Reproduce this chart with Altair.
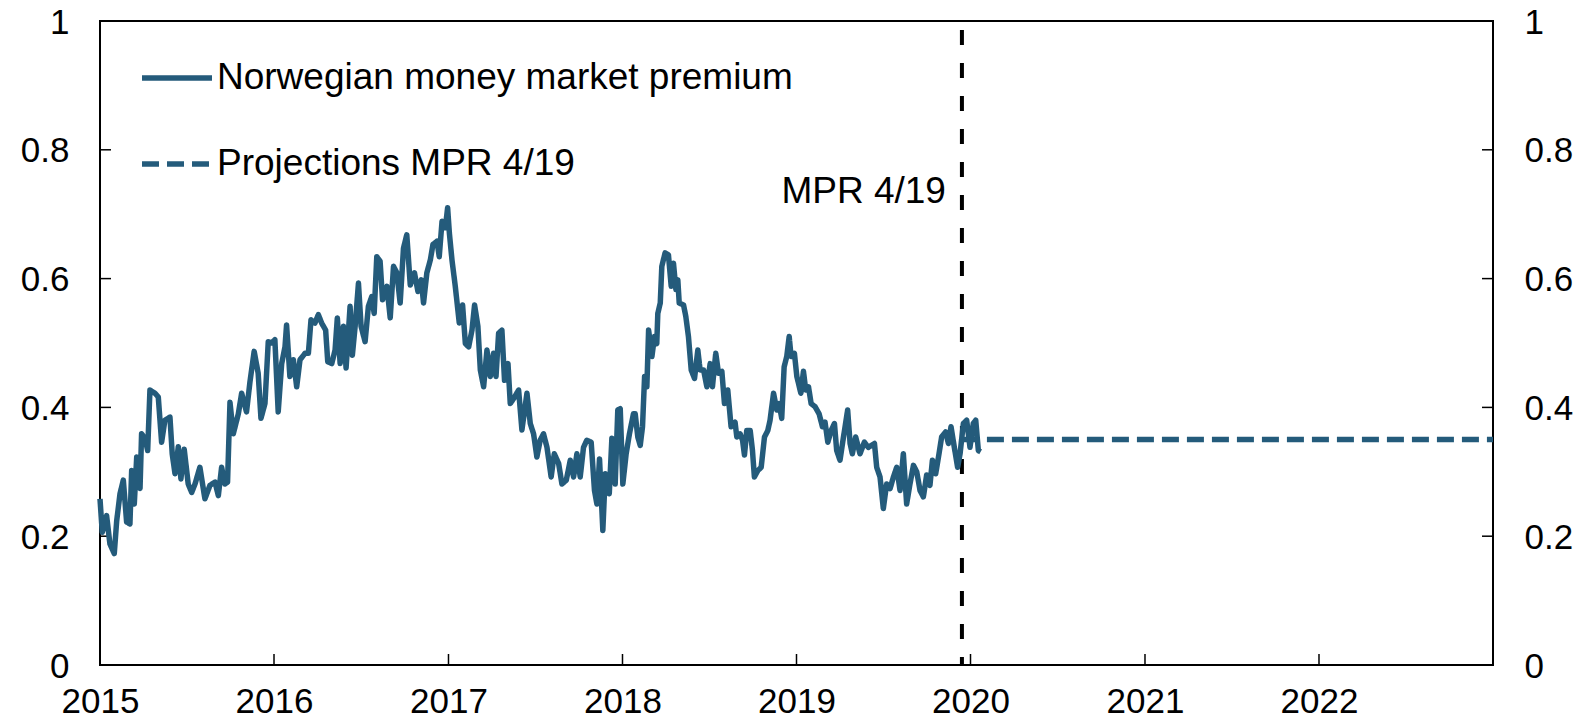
import altair as alt
import pandas as pd

# ---- data ----
hist_years = [
    2015.000, 2015.013, 2015.038, 2015.057, 2015.082, 2015.096, 2015.115, 2015.134, 2015.153, 2015.172,
    2015.182, 2015.197, 2015.211, 2015.230, 2015.239, 2015.258, 2015.274, 2015.287, 2015.316, 2015.335,
    2015.354, 2015.373, 2015.402, 2015.415, 2015.431, 2015.450, 2015.465, 2015.484, 2015.507, 2015.527,
    2015.546, 2015.574, 2015.603, 2015.632, 2015.661, 2015.680, 2015.699, 2015.718, 2015.733, 2015.747,
    2015.766, 2015.795, 2015.814, 2015.842, 2015.862, 2015.886, 2015.909, 2015.925, 2015.948, 2015.967,
    2015.986,
    2016.005, 2016.024, 2016.044, 2016.063, 2016.072, 2016.091, 2016.111, 2016.130, 2016.149, 2016.178,
    2016.197, 2016.212, 2016.235, 2016.254, 2016.273, 2016.296, 2016.308, 2016.331, 2016.350, 2016.363,
    2016.379, 2016.398, 2016.413, 2016.436, 2016.449, 2016.465, 2016.484, 2016.499, 2016.522, 2016.541,
    2016.560, 2016.574, 2016.589, 2016.608, 2016.622, 2016.647, 2016.666, 2016.685, 2016.704, 2016.723,
    2016.742, 2016.761, 2016.781, 2016.805, 2016.825, 2016.844, 2016.857, 2016.876, 2016.896, 2016.911,
    2016.934, 2016.947, 2016.963, 2016.982, 2016.995, 2017.005, 2017.020, 2017.039,
    2017.062, 2017.081, 2017.097, 2017.116, 2017.135, 2017.150, 2017.169, 2017.183, 2017.202, 2017.221,
    2017.240, 2017.259, 2017.273, 2017.288, 2017.307, 2017.322, 2017.342, 2017.355, 2017.380, 2017.403,
    2017.422, 2017.451, 2017.470, 2017.489, 2017.508, 2017.527, 2017.546, 2017.566, 2017.590, 2017.608,
    2017.633, 2017.652, 2017.677, 2017.700, 2017.719, 2017.738, 2017.757, 2017.776, 2017.795, 2017.820,
    2017.839, 2017.853, 2017.868, 2017.887, 2017.901, 2017.924, 2017.939, 2017.958, 2017.973, 2017.987,
    2018.002, 2018.021, 2018.040, 2018.063,
    2018.073, 2018.088, 2018.102, 2018.115, 2018.127, 2018.140, 2018.150, 2018.169, 2018.184, 2018.197,
    2018.203, 2018.217, 2018.226, 2018.245, 2018.264, 2018.280, 2018.293, 2018.307, 2018.318, 2018.326,
    2018.351, 2018.364, 2018.379, 2018.395, 2018.414, 2018.433, 2018.446, 2018.466, 2018.485, 2018.504,
    2018.517, 2018.536, 2018.552, 2018.571, 2018.586, 2018.605, 2018.624, 2018.647, 2018.657, 2018.676,
    2018.690, 2018.701, 2018.714, 2018.734, 2018.747, 2018.758, 2018.778, 2018.797, 2018.816, 2018.835,
    2018.848, 2018.868, 2018.887, 2018.900, 2018.915, 2018.929, 2018.944, 2018.958, 2018.969, 2018.988,
    2019.002, 2019.025, 2019.040, 2019.053, 2019.069, 2019.084,
    2019.107, 2019.130, 2019.149, 2019.164, 2019.180, 2019.199, 2019.218, 2019.231, 2019.250, 2019.270,
    2019.294, 2019.308, 2019.321, 2019.340, 2019.365, 2019.390, 2019.413, 2019.448, 2019.461, 2019.480,
    2019.499, 2019.518, 2019.538, 2019.557, 2019.576, 2019.595, 2019.614, 2019.633, 2019.652, 2019.672,
    2019.691, 2019.710, 2019.729, 2019.748, 2019.767, 2019.781, 2019.800, 2019.819, 2019.834, 2019.857,
    2019.873, 2019.888, 2019.907, 2019.926, 2019.940, 2019.959, 2019.978, 2019.997, 2020.016, 2020.030,
    2020.045, 2020.058,
]
hist_values = [
    0.258, 0.206, 0.232, 0.188, 0.173, 0.224, 0.266, 0.287, 0.222, 0.219,
    0.302, 0.250, 0.323, 0.274, 0.359, 0.352, 0.333, 0.427, 0.422, 0.416,
    0.346, 0.380, 0.385, 0.328, 0.297, 0.339, 0.289, 0.335, 0.281, 0.268,
    0.281, 0.307, 0.258, 0.279, 0.284, 0.263, 0.307, 0.281, 0.284, 0.408,
    0.359, 0.390, 0.422, 0.393, 0.440, 0.487, 0.453, 0.383, 0.406, 0.502,
    0.500,
    0.505, 0.393, 0.468, 0.494, 0.528, 0.448, 0.474, 0.432, 0.474, 0.484,
    0.484, 0.536, 0.531, 0.544, 0.531, 0.520, 0.471, 0.468, 0.489, 0.539,
    0.468, 0.526, 0.461, 0.557, 0.481, 0.526, 0.593, 0.526, 0.502, 0.557,
    0.572, 0.546, 0.634, 0.627, 0.567, 0.588, 0.539, 0.619, 0.609, 0.562,
    0.647, 0.668, 0.590, 0.609, 0.580, 0.598, 0.562, 0.609, 0.629, 0.653,
    0.658, 0.634, 0.689, 0.679, 0.710, 0.671, 0.629, 0.588,
    0.531, 0.559, 0.499, 0.494, 0.520, 0.559, 0.526, 0.458, 0.432, 0.489,
    0.448, 0.484, 0.448, 0.515, 0.520, 0.442, 0.468, 0.406, 0.416, 0.427,
    0.365, 0.422, 0.375, 0.359, 0.323, 0.349, 0.359, 0.338, 0.292, 0.328,
    0.313, 0.281, 0.287, 0.318, 0.292, 0.328, 0.292, 0.338, 0.349, 0.346,
    0.271, 0.250, 0.320, 0.209, 0.297, 0.266, 0.352, 0.281, 0.396, 0.398,
    0.281, 0.328, 0.359, 0.390,
    0.390, 0.354, 0.341, 0.370, 0.448, 0.432, 0.520, 0.479, 0.510, 0.499,
    0.546, 0.562, 0.619, 0.640, 0.637, 0.588, 0.624, 0.583, 0.598, 0.562,
    0.559, 0.541, 0.510, 0.458, 0.445, 0.489, 0.458, 0.458, 0.432, 0.468,
    0.432, 0.484, 0.453, 0.456, 0.406, 0.427, 0.370, 0.377, 0.354, 0.359,
    0.349, 0.326, 0.364, 0.364, 0.333, 0.292, 0.302, 0.307, 0.354, 0.364,
    0.380, 0.422, 0.396, 0.406, 0.383, 0.463, 0.479, 0.510, 0.479, 0.484,
    0.448, 0.422, 0.456, 0.427, 0.432, 0.406,
    0.401, 0.390, 0.370, 0.377, 0.346, 0.364, 0.375, 0.333, 0.318, 0.354,
    0.396, 0.344, 0.328, 0.354, 0.328, 0.346, 0.338, 0.344, 0.307, 0.292,
    0.243, 0.281, 0.274, 0.292, 0.307, 0.271, 0.328, 0.250, 0.281, 0.310,
    0.300, 0.271, 0.261, 0.295, 0.279, 0.318, 0.297, 0.328, 0.354, 0.362,
    0.344, 0.370, 0.338, 0.307, 0.328, 0.375, 0.380, 0.338, 0.375, 0.380,
    0.333, 0.331,
]
proj_dates = ["2019-12-14", "2023-01-01"]
proj_values = [0.35, 0.35]
mpr_date = "2019-12-14"
mpr_label = "MPR 4/19"
mpr_label_y = 0.735
series_names = ["Norwegian money market premium", "Projections MPR 4/19"]
year_ticks = [f"{y}-01-01" for y in range(2015, 2024)]
year_labels = [f"{y}-01-01" for y in range(2015, 2023)]
y_ticks = [0, 0.2, 0.4, 0.6, 0.8, 1.0]

BLUE = "#245B7B"
FONT = "Liberation Sans"


def frac_to_date(y):
    yr = int(y)
    start = pd.Timestamp(yr, 1, 1)
    end = pd.Timestamp(yr + 1, 1, 1)
    return start + (end - start) * (y - yr)


hist = pd.DataFrame({
    "date": [frac_to_date(y) for y in hist_years],
    "value": hist_values,
    "series": series_names[0],
})
proj = pd.DataFrame({
    "date": pd.to_datetime(proj_dates),
    "value": proj_values,
    "series": series_names[1],
})
lines_df = pd.concat([hist, proj], ignore_index=True)

W, H = 1393, 644
xscale = alt.Scale(domain=[pd.Timestamp("2015-01-01").isoformat(), pd.Timestamp("2023-01-01").isoformat()])
yscale = alt.Scale(domain=[0, 1], nice=False, zero=False)

xaxis = alt.Axis(values=[pd.Timestamp(d).isoformat() for d in year_labels], format="%Y",
                 labelFlush=False, labelPadding=19, tickSize=0, domain=False, grid=False, title=None,
                 labelAngle=0, labelBaseline="top")

yaxis_common = dict(values=y_ticks, format="~g", tickSize=0, domain=False, grid=False, title=None,
                    labelPadding=31, labelOffset=1)

lines = alt.Chart(lines_df).mark_line(strokeWidth=5.5, strokeJoin="round").encode(
    x=alt.X("date:T", scale=xscale, axis=xaxis),
    y=alt.Y("value:Q", scale=yscale, axis=alt.Axis(orient="left", **yaxis_common)),
    color=alt.Color("series:N", scale=alt.Scale(domain=series_names, range=[BLUE, BLUE]),
                    legend=alt.Legend(title=None)),
    strokeDash=alt.StrokeDash("series:N", scale=alt.Scale(domain=series_names, range=[[1, 0], [17, 8]]),
                              legend=alt.Legend(title=None)),
)

vline = alt.Chart(pd.DataFrame({"date": [pd.Timestamp(mpr_date)]})).mark_rule(
    color="black", strokeWidth=4, strokeDash=[15, 18], strokeDashOffset=-9
).encode(
    x=alt.X("date:T", scale=xscale, axis=xaxis),
    y=alt.value(0),
    y2=alt.value(H),
)

mpr_text = alt.Chart(pd.DataFrame({"date": [pd.Timestamp(mpr_date)], "v": [mpr_label_y],
                                   "label": [mpr_label]})).mark_text(
    align="right", baseline="middle", dx=-16, fontSize=37, font=FONT, color="black"
).encode(
    x=alt.X("date:T", scale=xscale, axis=xaxis),
    y=alt.Y("v:Q", scale=yscale, axis=None),
    text="label:N",
)

yt = pd.DataFrame({"v": y_ticks})
left_ticks = alt.Chart(yt).mark_rule(color="black", strokeWidth=1.5).encode(
    y=alt.Y("v:Q", scale=yscale, axis=None),
    x=alt.value(0), x2=alt.value(11),
)
right_ticks = alt.Chart(yt).mark_rule(color="black", strokeWidth=1.5).encode(
    y=alt.Y("v:Q", scale=yscale, axis=alt.Axis(orient="right", **yaxis_common)),
    x=alt.value(W), x2=alt.value(W - 11),
)
xt = pd.DataFrame({"date": pd.to_datetime(year_ticks)})
bottom_ticks = alt.Chart(xt).mark_rule(color="black", strokeWidth=1.5).encode(
    x=alt.X("date:T", scale=xscale, axis=xaxis),
    y=alt.value(H), y2=alt.value(H - 11),
)

chart = alt.layer(
    vline, left_ticks, bottom_ticks, right_ticks, lines, mpr_text
).resolve_scale(
    y="independent"
).properties(
    width=W, height=H,
    padding={"left": 92, "top": 13, "right": 86, "bottom": 54},
    autosize=alt.AutoSizeParams(type="none"),
).configure_view(
    stroke="black", strokeWidth=2
).configure_axis(
    labelFont=FONT, labelFontSize=35, labelColor="black"
).configure_legend(
    orient="none", legendX=39, legendY=19, symbolType="stroke", symbolSize=4900,
    symbolStrokeWidth=5.5, labelFont=FONT, labelFontSize=37, labelColor="black",
    labelLimit=1000, labelOffset=2, rowPadding=30, padding=0
)

chart.save("out.html", embed_options={"renderer": "svg", "actions": False})
